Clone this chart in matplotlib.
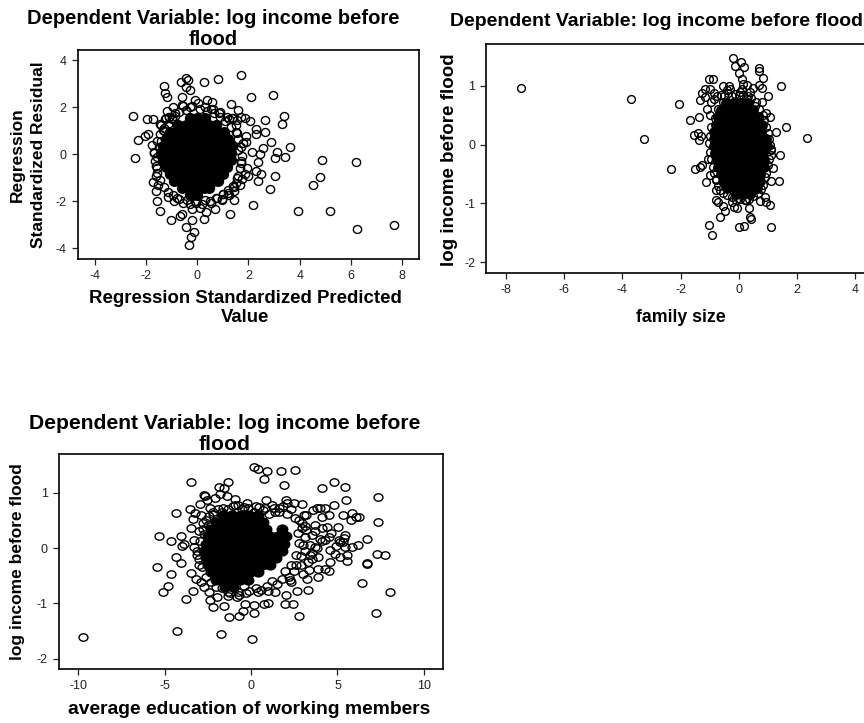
import matplotlib
matplotlib.use("Agg")
import matplotlib.pyplot as plt
from matplotlib.path import Path
from matplotlib.transforms import Affine2D

plt.rcParams['font.family'] = ['Liberation Sans', 'DejaVu Sans']
plt.rcParams['axes.unicode_minus'] = False

W, H = 864, 723

# --- panel 1: residual vs predicted ---
p1_x = [-2.49,-2.42,-2.30,-1.94,-1.72,-2.04,-1.91,-1.78,-1.69,-1.74,-1.62,-1.58,-1.45,-1.03,-0.68,-0.59,-0.44,-0.13,-0.25,-0.32,
        -0.19,0.27,-0.22,0.12,0.34,0.69,1.27,0.97,1.44,2.19,2.83,2.39,3.03,2.5,2.31,2.38,2.0,2.44,2.13,2.55,2.86,3.13,3.04,3.42,3.63,
        3.29,3.37,2.64,2.31,2.64,2.31,1.9,1.9,2.09,2.94,1.69,0.82,0.25,-0.44,-0.35,-0.65,-0.42,-0.29,-1.31,-1.24,-1.16,-0.59,-0.09,
        0.39,0.56,1.33,1.61,-0.96,-1.17,4.85,6.18,4.77,4.51,3.93,5.19,6.24,7.66,
        -1.52,-1.6,-1.55,-1.45,-1.35,-1.25,-1.1,-0.8,-0.55,-0.3,-0.05,0.3,0.55,0.75,1.0,1.25,1.45,1.65,1.75,1.85,1.95,1.7,1.6,1.78,
        1.55,1.5,1.35,1.15,0.85,0.55,0.3,0.05,-0.3,-0.55,-0.85,-1.0,-1.2,-1.3,-1.42,-1.5,-1.58,1.4,1.55,1.7,1.85,2.05]
p1_y = [1.63,-0.17,0.61,1.49,1.49,0.78,0.85,0.41,0.07,-1.18,-1.57,-2.0,-2.41,-2.81,-2.62,-2.55,-3.08,-3.29,-3.5,-3.84,
        -2.79,-2.75,-2.34,-2.30,-2.47,-2.34,-2.52,-1.96,-1.94,-2.16,-1.48,-1.12,-0.92,-0.84,-0.70,-0.33,-0.92,0.0,0.09,0.28,0.51,0.09,-0.16,-0.13,0.31,
        1.28,1.65,1.45,1.06,0.94,0.87,0.78,0.52,2.44,2.52,3.39,3.2,3.09,3.25,3.15,3.06,2.85,2.74,2.91,2.62,2.44,2.44,2.31,
        2.31,2.21,2.16,1.89,2.0,1.84,-0.24,-0.31,-0.95,-1.3,-2.4,-2.4,-3.18,-2.99,
        -1.3,-0.9,-0.6,1.3,1.05,1.5,1.6,-1.85,-2.05,-2.1,-2.05,-1.95,-2.05,-1.85,-1.7,-1.75,-1.55,-1.3,-1.05,-0.85,-0.6,-0.3,0.2,0.5,
        0.9,1.25,1.55,1.6,1.75,1.95,2.0,2.2,2.0,2.05,1.75,1.55,1.55,1.0,0.55,0.3,-0.1,1.55,1.45,1.6,1.55,1.4]
p1_rim_x = [-1.7,-1.65,-1.55,-1.45,-1.3,-1.15,-1.0,-0.85,-0.7,-0.45,-0.2,0.1,0.4,0.65,0.9,1.1,1.3,1.5,1.6,1.7,1.75,1.72,1.68,1.6,1.5,1.38,1.2,1.0,
            0.78,0.5,0.2,-0.1,-0.4,-0.7,-0.95,-1.15,-1.3,-1.45,-1.55,-1.62,-1.15,-0.9,0.95,1.2,1.45,1.55,-1.4,-1.1,1.25,0.9,0.6,-0.6]
p1_rim_y = [0.1,-0.3,0.55,0.85,1.1,1.3,1.5,1.65,1.8,1.9,2.05,1.95,1.85,1.75,1.6,1.4,1.15,0.95,0.65,0.3,-0.05,-0.35,-0.6,-0.9,-1.2,-1.35,-1.5,-1.7,
            -1.85,-2.0,-2.1,-2.0,-1.95,-1.9,-1.75,-1.6,-1.4,-1.1,-0.8,-0.5,-1.8,-2.0,-1.9,-1.65,-1.4,-1.0,1.25,1.6,1.5,1.8,1.95,2.1]
p1_core_y = [1.55,1.25,0.95,0.65,0.35,0.05,-0.25,-0.55,-0.85,-1.15,-1.45,-1.75]
p1_core_x = [[-0.3,0,0.3],
             [-0.75,-0.45,-0.15,0.15,0.45,0.75],
             [-1.05,-0.75,-0.45,-0.15,0.15,0.45,0.75,1.05],
             [-1.2,-0.9,-0.6,-0.3,0,0.3,0.6,0.9,1.2],
             [-1.35,-1.05,-0.75,-0.45,-0.15,0.15,0.45,0.75,1.05,1.35],
             [-1.4,-1.1,-0.8,-0.5,-0.2,0.1,0.4,0.7,1.0,1.3],
             [-1.35,-1.05,-0.75,-0.45,-0.15,0.15,0.45,0.75,1.05,1.3],
             [-1.2,-0.9,-0.6,-0.3,0,0.3,0.6,0.9,1.15],
             [-1.05,-0.75,-0.45,-0.15,0.15,0.45,0.75,1.0],
             [-0.9,-0.6,-0.3,0,0.3,0.6,0.8],
             [-0.6,-0.3,0,0.25,0.45],
             [-0.3,0]]

# --- panel 2: log income vs family size ---
p2_x = [-7.5,-3.69,-3.25,-2.32,-2.05,-1.67,-1.38,-1.55,-1.41,-1.38,-1.29,-1.33,-1.27,-1.04,-0.9,-1.15,-0.98,-1.15,-1.1,-0.98,
        -1.5,-1.35,-1.25,-1.06,-0.98,-1.12,-0.79,-0.79,-0.78,-0.73,-0.55,-0.49,-0.64,-1.02,-0.92,0,0.18,1.09,0.42,0.39,0.35,-0.07,-0.18,-0.24,
        0.25,0.73,0.9,0.94,1.07,1.1,1.38,1.19,1.42,1.11,1.1,1.29,1.61,2.34,1.06,0.94,1.0,0.79,0.78,1.46,0.82,0.71,0.7,-0.2,-0.13,0.07,0.19,0.01,
        0.1,0.16,0.27,0.5,0.68,-0.53,-0.33,-0.41,-0.87,0.05,0.27]
p2_y = [0.96,0.77,0.09,-0.42,0.69,0.41,0.47,0.17,0.19,0.07,0.15,0.76,0.88,1.12,1.11,0.95,0.94,0.81,0.6,0.5,
        -0.42,-0.38,-0.34,-0.24,-0.51,-0.64,-0.58,-0.78,-0.95,-0.97,-1.05,-1.13,-1.23,-1.36,-1.54,-1.41,-1.39,-1.41,-1.26,-1.23,-1.08,-1.08,-1.06,-0.97,
        -0.95,-0.96,-0.89,-0.98,-1.02,-0.62,-0.62,-0.4,-0.17,-0.18,-0.08,0.22,0.3,0.11,0.46,0.53,0.83,0.72,0.96,1.0,1.14,1.3,1.25,1.48,1.33,1.4,1.32,1.22,
        1.12,1.03,1.01,0.97,1.01,0.99,0.99,0.93,0.88,0.9,0.78]
p2_rim_x = [-0.95,-0.85,-0.75,-0.62,-0.5,-0.38,-0.25,-0.12,0.02,0.15,0.3,0.42,0.55,0.7,0.82,0.88,0.95,1.0,1.05,1.08,1.1,1.02,1.0,0.95,0.9,0.82,0.75,
            0.65,0.5,0.35,0.2,0.05,-0.1,-0.25,-0.4,-0.55,-0.65,-0.72,-0.8,-0.85,-0.9,-0.95,-1.0,-1.02,-1.0,-0.95,-0.82,-0.7,-0.55,-0.3,0.1,0.4,0.6]
p2_rim_y = [0.72,0.78,0.82,0.85,0.82,0.88,0.82,0.86,0.85,0.85,0.82,0.8,0.65,0.6,0.5,0.42,0.3,0.2,0.1,0.0,-0.1,-0.25,-0.35,-0.48,-0.55,-0.68,-0.75,
            -0.82,-0.88,-0.92,-0.95,-0.92,-0.95,-0.9,-0.85,-0.82,-0.78,-0.7,-0.6,-0.48,-0.38,-0.25,-0.12,0.02,0.15,0.3,0.45,0.6,0.72,0.94,0.95,0.9,0.72]
p2_core_y = [0.70,0.58,0.46,0.34,0.22,0.10,-0.02,-0.14,-0.26,-0.38,-0.50,-0.62,-0.74,-0.84]
p2_core_x = [[-0.45,-0.2,0.05,0.3],
             [-0.6,-0.33,-0.06,0.21,0.48],
             [-0.7,-0.43,-0.16,0.11,0.38,0.65],
             [-0.8,-0.53,-0.26,0.01,0.28,0.55,0.8],
             [-0.85,-0.58,-0.31,-0.04,0.23,0.5,0.77],
             [-0.87,-0.6,-0.33,-0.06,0.21,0.48,0.75,0.95],
             [-0.85,-0.58,-0.31,-0.04,0.23,0.5,0.77,0.97],
             [-0.82,-0.55,-0.28,-0.01,0.26,0.53,0.8],
             [-0.75,-0.48,-0.21,0.06,0.33,0.6,0.85],
             [-0.7,-0.43,-0.16,0.11,0.38,0.65,0.85],
             [-0.62,-0.35,-0.08,0.19,0.46,0.73],
             [-0.55,-0.28,-0.01,0.26,0.53,0.72],
             [-0.4,-0.13,0.14,0.41,0.62],
             [-0.1,0.15,0.4]]

# --- panel 3: log income vs average education ---
p3_x = [-9.69,-4.3,-1.71,0.04,-5.43,-5.32,-5.07,-4.82,-4.6,-4.64,-4.33,-4.03,-4.07,-4.01,-3.87,-4.31,-3.74,-3.37,-3.47,-3.47,-3.37,-3.51,-3.49,
        -3.22,-2.93,-2.74,-2.68,-2.56,-2.37,-2.1,-1.83,-1.58,-1.31,-1.79,-1.4,-0.93,-0.25,0.19,0.42,0.91,0.77,1.75,2.52,1.89,4.12,4.82,5.45,5.49,4.78,
        7.34,7.36,6.69,6.05,5.82,5.34,5.8,6.22,5.05,5.43,6.17,5.86,7.26,7.75,6.69,6.72,8.02,6.44,7.23,5.53,5.53,5.14,4.57,4.53,4.3,3.87,3.89,3.33,3.22,
        3.28,3.0,2.77,2.45,1.96,2.0,2.64,2.27,2.32,1.0,0.77,0.19,0.19,-0.35,-0.48,-0.71,-1.25,-1.56,-2.18,-2.37,-1.98,-0.79,-1.33,
        3.06,3.2,3.6,3.8,4.0,4.3,4.49,4.09,3.7,3.12,2.93,4.09,4.37,4.49,4.0,3.5,3.12,2.74,3.7,3.41,4.3,4.57,4.86,5.34,5.14,5.43,3.89,2.5,2.93,2.06,2.0,
        1.4,0.89,-3.3,-3.1,-3.0,-3.2,-2.9,-2.7,-2.4,-3.0,-2.8,-2.9,-3.3,-2.2,-1.6,-0.9,-0.4,0.3,0.8,1.2,1.6,-1.2,-0.7,-0.3,0.4,1.0,1.4,2.8,3.1,3.5,3.8,2.6,2.9]
p3_y = [-1.6,-1.5,-1.55,-1.64,-0.34,0.22,-0.79,-0.68,-0.47,0.12,-0.17,-0.27,0.22,0.04,0.07,0.64,-0.92,-0.78,-0.45,0.36,0.52,0.7,1.2,
        0.63,0.8,0.96,0.95,0.87,0.73,0.91,1.11,1.08,1.2,0.98,0.94,0.89,0.82,1.46,1.42,1.4,1.25,1.4,1.41,1.14,1.08,1.2,1.1,0.86,0.78,
        0.92,0.48,0.16,0.57,0.63,0.59,0.51,0.56,0.38,0.23,0.06,0.02,-0.11,-0.12,-0.27,-0.29,-0.79,-0.63,-1.18,-0.23,-0.13,-0.16,-0.25,-0.41,-0.37,-0.52,-0.37,-0.4,-0.56,
        -0.75,-0.46,-1.22,-1.01,-1.01,-0.85,-0.78,-0.58,-0.61,-1.0,-1.01,-1.03,-1.18,-1.01,-1.13,-1.23,-1.24,-1.05,-1.06,-0.94,-0.88,-0.89,-0.87,
        0.6,0.6,0.69,0.72,0.73,0.72,0.6,0.57,0.42,0.4,0.36,0.36,0.39,0.2,0.17,0.23,0.2,0.27,0.02,-0.13,0.14,-0.04,-0.1,0.11,0.11,0.02,-0.16,0.82,0.79,0.81,0.87,
        0.66,0.87,0.02,-0.12,-0.3,-0.55,-0.62,-0.7,-0.8,0.3,0.45,0.6,0.15,0.66,0.72,0.78,0.75,0.76,0.72,0.78,0.72,-0.82,-0.85,-0.82,-0.8,-0.78,-0.8,0.1,-0.05,-0.2,0.0,-0.3,-0.15]
p3_rim_x = [-2.8,-2.6,-2.4,-2.2,-1.9,-1.65,-1.35,-1.05,-0.75,-0.5,-0.15,0.15,0.45,0.7,1.05,1.35,1.6,1.85,2.1,2.3,2.55,2.75,2.95,3.2,3.0,3.3,3.5,2.9,2.5,2.2,
            1.8,1.5,1.2,0.9,0.6,0.3,-0.1,-0.4,-0.75,-1.0,-1.35,-1.7,-2.05,-2.3,-2.6,-2.85,-3.0,-3.1,-2.95,-2.7,-2.5,2.3,1.95,2.6,3.4,3.7,4.1,4.6,4.9,5.1,5.4]
p3_rim_y = [0.35,0.5,0.58,0.62,0.7,0.65,0.7,0.76,0.78,0.7,0.72,0.66,0.75,0.68,0.62,0.72,0.65,0.76,0.62,0.7,0.55,0.5,0.45,0.32,0.05,-0.25,-0.08,-0.3,-0.42,-0.52,
            -0.55,-0.65,-0.6,-0.68,-0.75,-0.72,-0.78,-0.68,-0.8,-0.72,-0.8,-0.72,-0.7,-0.62,-0.52,-0.35,-0.2,-0.05,0.12,0.25,0.42,-0.3,-0.42,-0.12,0.06,0.3,0.12,0.28,0.04,0.14,0.18]
p3_core_y = [0.6,0.47,0.34,0.21,0.08,-0.05,-0.18,-0.31,-0.44,-0.57,-0.7]
p3_core_x = [[-1.6,-1.1,-0.6,-0.1,0.4],
             [-2.0,-1.55,-1.1,-0.65,-0.2,0.25,0.7],
             [-2.3,-1.85,-1.4,-0.95,-0.5,-0.05,0.4,0.85,1.8],
             [-2.5,-2.05,-1.6,-1.15,-0.7,-0.25,0.2,0.65,1.1,1.55,2.0],
             [-2.6,-2.15,-1.7,-1.25,-0.8,-0.35,0.1,0.55,1.0,1.45,1.9],
             [-2.7,-2.25,-1.8,-1.35,-0.9,-0.45,0,0.45,0.9,1.35,1.8],
             [-2.6,-2.15,-1.7,-1.25,-0.8,-0.35,0.1,0.55,1.0,1.45],
             [-2.5,-2.05,-1.6,-1.15,-0.7,-0.25,0.2,0.65,1.1],
             [-2.3,-1.85,-1.4,-0.95,-0.5,-0.05,0.4],
             [-2.0,-1.55,-1.1,-0.65,-0.2],
             [-1.5,-1.05]]

p1_xticks = [-4,-2,0,2,4,6,8]
p1_yticks = [-4,-2,0,2,4]
p2_xticks = [-8,-6,-4,-2,0,2,4]
p2_yticks = [-2,-1,0,1]
p3_xticks = [-10,-5,0,5,10]
p3_yticks = [-2,-1,0,1]


def ring(sx, sy):
    return Affine2D().scale(sx, sy).transform_path(Path.unit_circle())


def panel(fig, box, xlim, ylim, xt, yt, xs, ys, core_y, core_x, marker, ms):
    l, t, r, b = box
    ax = fig.add_axes([l/W, 1-b/H, (r-l)/W, (b-t)/H])
    cx = [v for row in core_x for v in row]
    cy = [y for y, row in zip(core_y, core_x) for v in row]
    # the solid middle of each cloud, where the rings overlap completely
    ax.plot(cx, cy, ls='none', marker=marker, ms=ms+1.2, mfc='black', mec='black', mew=1.0)
    ax.plot(xs, ys, ls='none', marker=marker, ms=ms, mfc='none', mec='black', mew=1.0)
    ax.set_xlim(xlim)
    ax.set_ylim(ylim)
    ax.set_xticks(xt)
    ax.set_yticks(yt)
    ax.tick_params(labelsize=9, length=4, width=0.9, pad=4, colors='#222222')
    for s in ax.spines.values():
        s.set_linewidth(1.2)
    return ax


def label(fig, px, py, s, rot=0, size=12, ls=1.12):
    fig.text(px/W, 1-py/H, s, ha='center', va='center', rotation=rot,
             fontsize=size, fontweight='bold', linespacing=ls, multialignment='center')


fig = plt.figure(figsize=(W/100, H/100), dpi=100)

panel(fig, (77.7, 50, 419, 258.7), (-4.66, 8.65), (-4.44, 4.44), p1_xticks, p1_yticks,
      p1_x + p1_rim_x, p1_y + p1_rim_y, p1_core_y, p1_core_x, ring(1.05, 1.0), 6.0)
panel(fig, (486.3, 44, 900, 273.3), (-8.68, 5.54), (-2.19, 1.71), p2_xticks, p2_yticks,
      p2_x + p2_rim_x, p2_y + p2_rim_y, p2_core_y, p2_core_x, 'o', 5.6)
panel(fig, (58.7, 454, 443.3, 669.3), (-11.12, 11.12), (-2.19, 1.70), p3_xticks, p3_yticks,
      p3_x + p3_rim_x, p3_y + p3_rim_y, p3_core_y, p3_core_x, ring(1.1, 0.92), 6.4)

label(fig, 213, 29, "Dependent Variable: log income before\nflood", size=14.5)
label(fig, 245.5, 308, "Regression Standardized Predicted\nValue", size=13.4, ls=1.18)
label(fig, 28, 155, "Regression\nStandardized Residual", rot=90, size=12.5, ls=1.5)

label(fig, 657, 22, "Dependent Variable: log income before flood", size=14)
label(fig, 681, 317, "family size", size=12.8)
label(fig, 449, 160, "log income before flood", rot=90, size=13.5)

label(fig, 225, 434, "Dependent Variable: log income before\nflood", size=15.2)
label(fig, 249, 710, "average education of working members", size=13.9)
label(fig, 18, 562, "log income before flood", rot=90, size=12.5)

plt.savefig("out.png", dpi=100)
